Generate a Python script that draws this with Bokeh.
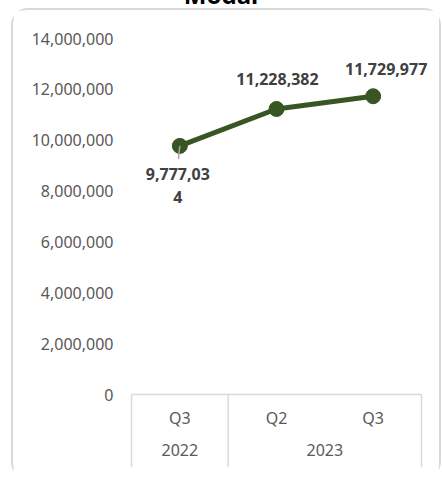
from bokeh.plotting import figure
from bokeh.layouts import column
from bokeh.models import (FactorRange, Range1d, FixedTicker, NumeralTickFormatter, ColumnDataSource,
                          Div, LabelSet)
from bokeh.core.properties import value
from bokeh.embed import file_html
from bokeh.resources import INLINE

# ---- data ----
years = ["2022", "2023", "2023"]
quarters = ["Q3", "Q2", "Q3"]
modal = [9777034, 11228382, 11729977]
y_ticks = [0, 2000000, 4000000, 6000000, 8000000, 10000000, 12000000, 14000000]
title_text = "Modal"

# ---- styles ----
FONT = "Noto Sans"
LINE_COLOR = "#375623"
TICK_COLOR = "#595959"
LABEL_COLOR = "#404040"
AXIS_COLOR = "#d9d9d9"

factors = list(zip(years, quarters))
n = len(factors)

# data labels (first one wraps onto two lines, as in the original)
label_wrap = [8, None, None]
label_dx = [-2, 1, 13]
label_dy = [-28, 30, 27]
LINE_GAP = 23
lab = dict(x=[], y=[], text=[], dx=[], dy=[])
for i, v in enumerate(modal):
    s = f"{v:,}"
    w = label_wrap[i]
    lines = [s[k:k + w] for k in range(0, len(s), w)] if w else [s]
    for j, line in enumerate(lines):
        lab["x"].append(factors[i])
        lab["y"].append(v)
        lab["text"].append(line)
        lab["dx"].append(label_dx[i])
        lab["dy"].append(label_dy[i] - j * LINE_GAP)

# plot-area geometry: 290 px for the categories, plus 17 px of padding each side
CAT_PX = 290
PAD_PX = 17
pad_units = PAD_PX * n / CAT_PX
x_range = FactorRange(*factors, factor_padding=0, group_padding=0,
                      range_padding=pad_units, range_padding_units="absolute")
y_range = Range1d(-2870787, 14000000)

p = figure(x_range=x_range, y_range=y_range,
           frame_width=CAT_PX + 2 * PAD_PX, frame_height=429,
           min_border_left=101, min_border_right=1, min_border_top=28, min_border_bottom=10,
           output_backend="svg", toolbar_location=None)
p.margin = (2, 0, 0, 13)
p.styles = {"box-shadow": "0 0 0 2px #d9d9d9", "border-radius": "15px"}
p.outline_line_color = None
p.xgrid.visible = False
p.ygrid.visible = False

# y axis
ya = p.yaxis[0]
ya.ticker = FixedTicker(ticks=y_ticks)
ya.formatter = NumeralTickFormatter(format="0,0")
ya.axis_line_color = None
ya.major_tick_line_color = None
ya.major_tick_out = 0
ya.major_tick_in = 0
ya.minor_tick_line_color = None
ya.major_label_standoff = 1
ya.major_label_text_font = FONT
ya.major_label_text_font_size = "16px"
ya.major_label_text_color = TICK_COLOR

# x axis (multi-level categorical) pinned at y = 0
xa = p.xaxis[0]
xa.fixed_location = 0
xa.bounds = (0, n)
xa.axis_line_color = AXIS_COLOR
xa.axis_line_width = 1.5
xa.major_tick_line_color = None
xa.major_tick_out = 0
xa.major_tick_in = 0
xa.minor_tick_line_color = None
xa.separator_line_color = None
xa.major_label_standoff = 12
xa.major_label_text_font = FONT
xa.major_label_text_font_size = "16px"
xa.major_label_text_color = TICK_COLOR
xa.group_text_font = FONT
xa.group_text_font_size = "16px"
xa.group_text_font_style = "normal"
xa.group_text_color = TICK_COLOR

# category box lines below the axis: outer edges and the year separator
bounds = [0] + [i for i in range(1, n) if years[i] != years[i - 1]] + [n]
p.segment(x0=bounds, x1=bounds, y0=[0] * len(bounds), y1=[y_range.start] * len(bounds),
          line_color=AXIS_COLOR, line_width=1.5)

src = ColumnDataSource(dict(x=factors, y=modal))
p.line("x", "y", source=src, line_color=LINE_COLOR, line_width=5, line_cap="round")
p.scatter("x", "y", source=src, size=15, fill_color=LINE_COLOR, line_color=LINE_COLOR)

# leader line for the first (displaced) label
p.ray(x=[factors[0]], y=[modal[0]], length=13, length_units="screen", angle=-1.68,
      line_color="#a6a6a6", line_width=1.5)

labels = LabelSet(x="x", y="y", text="text", source=ColumnDataSource(lab),
                  x_offset="dx", y_offset="dy",
                  text_align="center", text_baseline="middle",
                  text_font=value(FONT), text_font_size="16px", text_font_style="bold",
                  text_color=LABEL_COLOR)
p.add_layout(labels)

title = Div(text=f'<div style="position:relative; top:-17px; width:422px; padding-left:20px; '
                 f'text-align:center; font-family:\'Noto Sans\'; font-weight:bold; font-size:24px; '
                 f'line-height:24px; color:#000000;">{title_text}</div>',
            width=442, height=8, margin=0, styles={"overflow": "visible"})

layout = column(title, p, spacing=0)
open("out.html", "w").write(file_html(layout, INLINE))
